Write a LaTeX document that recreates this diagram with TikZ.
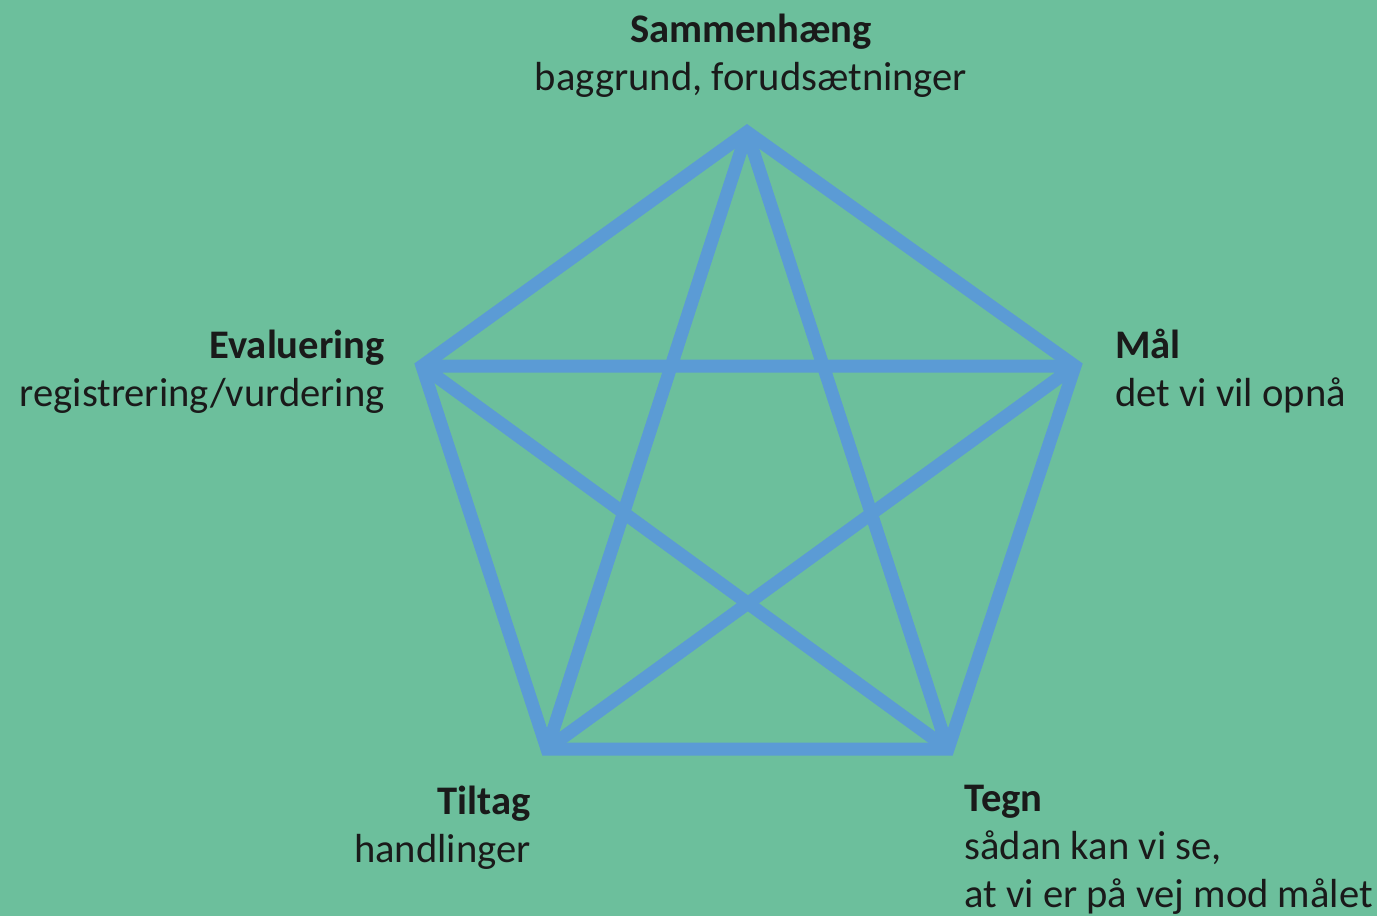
\documentclass[tikz,border=0pt]{standalone}
\usepackage{fontspec}
\setmainfont{Carlito}
\definecolor{bg}{HTML}{6CBF9C}
\definecolor{ln}{HTML}{5B9BD5}
\definecolor{tx}{HTML}{1A1A1A}
\begin{document}
\begin{tikzpicture}[x=0.5pt,y=-0.5pt,
  edge/.style={draw=ln,line width=6.5pt,line join=miter,miter limit=2},
  lbl/.style={inner sep=0pt,text=tx,font=\fontsize{20.3}{24}\selectfont,align=left}]
\fill[bg] (0,0) rectangle (1377,916);
\useasboundingbox (0,0) rectangle (1377,916);
\coordinate (T) at (747,132);
\coordinate (R) at (1075,366);
\coordinate (BR) at (948,749);
\coordinate (BL) at (547,749);
\coordinate (L) at (422,366);
\draw[edge] (T) -- (R) -- (BR) -- (BL) -- (L) -- cycle;
\draw[edge] (T) -- (BL) -- (R) -- (L) -- (BR) -- cycle;
\node[lbl,anchor=base,align=center] (s) at (751,90) {\textbf{Sammenhæng}\\baggrund, forudsætninger};
\node[lbl,anchor=base east,align=right] (e) at (385,406) {\textbf{Evaluering}\\registrering/vurdering};
\node[lbl,anchor=base west] (m) at (1115,406) {\textbf{Mål}\\det vi vil opnå};
\node[lbl,anchor=base east,align=right] (ti) at (531,862) {\textbf{Tiltag}\\handlinger};
\node[lbl,anchor=base west] (te) at (964,907) {\textbf{Tegn}\\sådan kan vi se,\\at vi er på vej mod målet};
\end{tikzpicture}
\end{document}
